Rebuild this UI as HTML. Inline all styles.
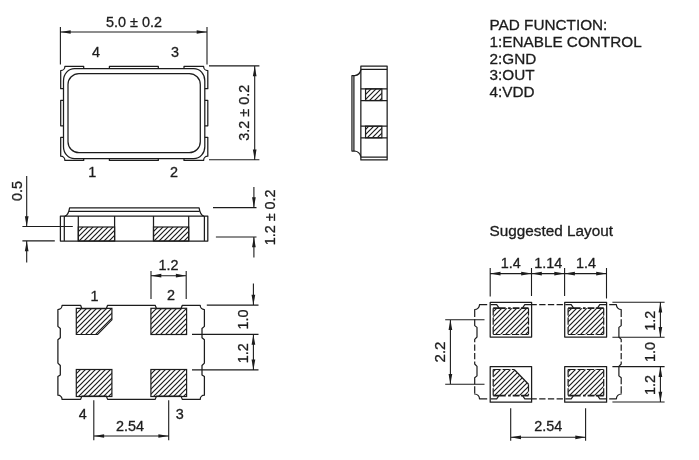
<!DOCTYPE html>
<html><head><meta charset="utf-8">
<style>
html,body{margin:0;padding:0;background:#fff;}
body{width:699px;height:460px;overflow:hidden;font-family:"Liberation Sans",sans-serif;}
svg{display:block;will-change:transform;}
text{font-family:"Liberation Sans",sans-serif;fill:#1c1c1c;stroke:#1c1c1c;stroke-width:0.3px;}
.d{font-size:14.4px;}
.t{font-size:15.3px;}
.o{fill:none;stroke:#1c1c1c;stroke-width:1.25;stroke-linejoin:round;}
.l{fill:none;stroke:#1c1c1c;stroke-width:1.1;}
.a{fill:#1c1c1c;stroke:none;}
.h{fill:url(#hat);stroke:#1c1c1c;stroke-width:1.2;}
.hd{fill:url(#hat);stroke:#1c1c1c;stroke-width:1.2;stroke-dasharray:7.2 2.2;}
</style></head><body>
<svg width="699" height="460" viewBox="0 0 699 460">
<defs>
<pattern id="hat" width="5" height="5" patternUnits="userSpaceOnUse">
<path d="M-1,6 L6,-1 M-1,1 L1,-1 M4,6 L6,4" stroke="#1c1c1c" stroke-width="1.2" fill="none"/>
</pattern>
<path id="aL" d="M0,0 L10.3,-1.85 L10.3,1.85 Z"/>
<path id="aR" d="M0,0 L-10.3,-1.85 L-10.3,1.85 Z"/>
<path id="aU" d="M0,0 L-1.85,10.3 L1.85,10.3 Z"/>
<path id="aD" d="M0,0 L-1.85,-10.3 L1.85,-10.3 Z"/>
<path id="bL" d="M0,0 L8,-1.6 L8,1.6 Z"/>
<path id="bR" d="M0,0 L-8,-1.6 L-8,1.6 Z"/>
<path id="bU" d="M0,0 L-1.6,8 L1.6,8 Z"/>
<path id="bD" d="M0,0 L-1.6,-8 L1.6,-8 Z"/>
</defs>
<rect width="699" height="460" fill="#fff"/>

<!-- ================= TOP VIEW ================= -->
<g id="topview">
<rect class="o" x="63.5" y="68.65" width="141.3" height="90" rx="11" ry="12"/>
<rect class="o" x="68" y="73.5" width="132.3" height="79.2" rx="11" ry="11"/>
<path class="o" d="M83.7,68.65 V66.4 H64.9 A4.2,4.2 0 0 1 60.7,70.6 V88.7 H63.5"/>
<path class="o" d="M109.4,68.65 V66.4 H158.3 V68.65"/>
<path class="o" d="M184,68.65 V66.4 H203.6 A4.2,4.2 0 0 0 207.8,70.6 V88.7 H204.8"/>
<path class="o" d="M63.5,100.4 H60.7 V125.8 H63.5"/>
<path class="o" d="M204.8,100.4 H207.8 V125.8 H204.8"/>
<path class="o" d="M63.5,137.3 H60.7 V156.2 A4.2,4.2 0 0 1 64.9,160.4 H83.7 V158.65"/>
<path class="o" d="M109.4,158.65 V160.4 H158.3 V158.65"/>
<path class="o" d="M184,158.65 V160.4 H203.6 A4.2,4.2 0 0 1 207.8,156.2 V137.3 H204.8"/>
<!-- dim 5.0 -->
<path class="l" d="M60.4,27 V64.6 M207,27 V64.6 M60.4,32 H207"/>
<use href="#aL" class="a" x="60.4" y="32"/><use href="#aR" class="a" x="207" y="32"/>
<text class="d" x="134" y="26.7" text-anchor="middle">5.0 ± 0.2</text>
<text class="d" x="96" y="56.8" text-anchor="middle">4</text>
<text class="d" x="175" y="56.8" text-anchor="middle">3</text>
<text class="d" x="92.3" y="176.6" text-anchor="middle">1</text>
<text class="d" x="174" y="176.6" text-anchor="middle">2</text>
<!-- dim 3.2 -->
<path class="l" d="M209,65.9 H259.4 M209,159.8 H259.4 M254.7,65.9 V159.8"/>
<use href="#aU" class="a" x="254.7" y="65.9"/><use href="#aD" class="a" x="254.7" y="159.8"/>
<text class="d" transform="translate(249,112.8) rotate(-90)" text-anchor="middle">3.2 ± 0.2</text>
</g>

<!-- ================= RIGHT SIDE VIEW ================= -->
<g id="sideview">
<rect class="o" x="360.85" y="66.05" width="26.3" height="93.9"/>
<path class="o" d="M360.85,69.35 H387.15 M360.85,157.2 H387.15"/>
<path class="o" d="M360.85,88.85 H387.15 M360.85,100.5 H387.15 M360.85,126.2 H387.15 M360.85,137.8 H387.15"/>
<rect class="h" x="365.55" y="88.85" width="16.3" height="11.65"/>
<rect class="h" x="365.55" y="126.2" width="16.3" height="11.6"/>
<path class="o" d="M360.85,70 Q359.8,74.8 354.8,75.6 H351.95 V151 H354.8 Q359.8,151.8 360.85,156.6"/>
<path class="o" d="M353.9,75.6 V151"/>
</g>

<!-- ================= FRONT VIEW ================= -->
<g id="frontview">
<rect class="o" x="60.4" y="216.1" width="147.4" height="24.9"/>
<path class="o" d="M64.3,216.1 V241 M204.4,216.1 V241"/>
<path class="o" d="M64.9,216.1 Q68.5,214.9 69.6,207.8 H199.1 Q200.2,214.9 203.8,216.1"/>
<path class="o" d="M69,211.3 H199.7"/>
<path class="o" d="M78.3,216.1 V241 M114.6,216.1 V241 M153.5,216.1 V241 M188.7,216.1 V241"/>
<rect class="h" x="78.3" y="227" width="36.3" height="14"/>
<rect class="h" x="153.5" y="227" width="35.2" height="14"/>
<!-- 0.5 dim -->
<path class="l" d="M22.4,226.5 H72.8 M22.4,240.9 H54.8 M26.7,176 V226.5 M26.7,240.9 V262.4"/>
<use href="#aD" class="a" x="26.7" y="226.5"/><use href="#aU" class="a" x="26.7" y="240.9"/>
<text class="d" transform="translate(21.7,191) rotate(-90)" text-anchor="middle">0.5</text>
<!-- 1.2±0.2 dim -->
<path class="l" d="M213,207.6 H256.5 M215.9,237 H256.5 M253.9,187 V207.6 M253.9,237 V257.6"/>
<use href="#aD" class="a" x="253.9" y="207.6"/><use href="#aU" class="a" x="253.9" y="237"/>
<text class="d" transform="translate(275,217.4) rotate(-90)" text-anchor="middle">1.2 ± 0.2</text>
</g>

<!-- ================= BOTTOM VIEW ================= -->
<g id="bottomview">
<path class="o" d="M62.1,305.3 H80.6 L81.89999999999999,308.7 H106.30000000000001 L107.60000000000001,305.3 H155.20000000000002 L156.50000000000003,308.7 H180.99999999999997 L182.29999999999998,305.3 H200.20000000000002 A4.2,4.2 0 0 0 204.4,309.5 V326.4 L202.0,328.5 V337.7 L204.4,339.8 V363.1 L202.0,365.5 V374.9 L204.4,376.6 V395.2 A4.2,4.2 0 0 0 200.20000000000002,399.4 H182.29999999999998 L180.99999999999997,396.0 H156.50000000000003 L155.20000000000002,399.4 H107.60000000000001 L106.30000000000001,396.0 H81.89999999999999 L80.6,399.4 H62.1 A4.2,4.2 0 0 0 57.9,395.2 V376.6 L60.3,374.9 V365.5 L57.9,363.1 V339.8 L60.3,337.7 V328.5 L57.9,326.4 V309.5 A4.2,4.2 0 0 0 62.1,305.3 Z"/>
<path class="h" d="M76.3,308.3 H111.9 V319.8 L97.6,334.5 H76.3 Z"/>
<rect class="h" x="150.9" y="308.3" width="35.7" height="26.2"/>
<rect class="h" x="76.3" y="369.5" width="35.6" height="27"/>
<rect class="h" x="150.9" y="369.5" width="35.7" height="27"/>
<!-- dim 1.2 top -->
<path class="l" d="M151,271 V299 M186.2,271 V299 M151,275.7 H186.2"/>
<use href="#aL" class="a" x="151" y="275.7"/><use href="#aR" class="a" x="186.2" y="275.7"/>
<text class="d" x="168.5" y="270" text-anchor="middle">1.2</text>
<text class="d" x="94.5" y="300.5" text-anchor="middle">1</text>
<text class="d" x="171" y="300.2" text-anchor="middle">2</text>
<text class="d" x="82.8" y="418.9" text-anchor="middle">4</text>
<text class="d" x="179.7" y="418.9" text-anchor="middle">3</text>
<!-- dim 2.54 -->
<path class="l" d="M93.8,400.3 V440.3 M168.7,400.3 V440.3 M93.8,436 H168.7"/>
<use href="#aL" class="a" x="93.8" y="436"/><use href="#aR" class="a" x="168.7" y="436"/>
<text class="d" x="130" y="430.6" text-anchor="middle">2.54</text>
<!-- dims right 1.0 / 1.2 -->
<path class="l" d="M206.8,305.1 H258.5 M192,334.4 H258.5 M192,369.9 H258.5 M253.4,283.6 V305.1 M253.4,334.4 V369.9"/>
<use href="#aD" class="a" x="253.4" y="305.1"/><use href="#aU" class="a" x="253.4" y="334.4"/><use href="#aD" class="a" x="253.4" y="369.9"/>
<text class="d" transform="translate(247.5,319.6) rotate(-90)" text-anchor="middle">1.0</text>
<text class="d" transform="translate(247.5,353.2) rotate(-90)" text-anchor="middle">1.2</text>
</g>

<!-- ================= TEXT ================= -->
<text class="t" x="489.5" y="29.7">PAD FUNCTION:</text>
<text class="t" x="489.5" y="46.65">1:ENABLE CONTROL</text>
<text class="t" x="489.5" y="63.5">2:GND</text>
<text class="t" x="489.5" y="80.45">3:OUT</text>
<text class="t" x="489.5" y="97.3">4:VDD</text>
<text class="t" style="font-size:15.3px" x="489.6" y="236">Suggested Layout</text>

<!-- ================= SUGGESTED LAYOUT ================= -->
<g id="layout">
<rect class="o" x="490.2" y="302.3" width="41.4" height="34.8"/>
<rect class="o" x="564.7" y="302.3" width="41.9" height="34.8"/>
<rect class="o" x="490.2" y="366.6" width="41.4" height="35.6"/>
<rect class="o" x="564.7" y="366.6" width="41.9" height="35.6"/>
<rect x="493.2" y="308.2" width="35.30000000000001" height="26.30000000000001" fill="url(#hat)"/>
<path class="o" style="stroke-width:1.2;stroke-dasharray:7.2 2.2" d="M493.2,308.2 V334.5 M528.5,308.2 V334.5 M493.2,334.5 H528.5"/>
<path class="o" style="stroke-width:1.7;stroke-dasharray:12.5 2.4 2.6 2 6.8 1.4 20" d="M493.2,308.2 H528.5"/>
<rect x="568.1" y="308.2" width="35.60000000000002" height="26.30000000000001" fill="url(#hat)"/>
<path class="o" style="stroke-width:1.2;stroke-dasharray:7.2 2.2" d="M568.1,308.2 V334.5 M603.7,308.2 V334.5 M568.1,334.5 H603.7"/>
<path class="o" style="stroke-width:1.7;stroke-dasharray:12.5 2.4 2.6 2 6.8 1.4 20" d="M568.1,308.2 H603.7"/>
<path d="M493.2,369.5 H514.2 L528.5,384.3 V395.6 H493.2 Z" fill="url(#hat)"/>
<path class="o" style="stroke-width:1.2;stroke-dasharray:7.2 2.2" d="M493.2,369.5 V395.6 M528.5,384.3 V395.6 M493.2,369.5 H514.2"/>
<path class="o" style="stroke-width:1.3" d="M514.2,369.5 L528.5,384.3"/>
<path class="o" style="stroke-width:1.7;stroke-dasharray:12.5 2.4 2.6 2 6.8 1.4 20" d="M493.2,395.6 H528.5"/>
<rect x="568.1" y="369.5" width="35.60000000000002" height="26.100000000000023" fill="url(#hat)"/>
<path class="o" style="stroke-width:1.2;stroke-dasharray:7.2 2.2" d="M568.1,369.5 V395.6 M603.7,369.5 V395.6 M568.1,369.5 H603.7"/>
<path class="o" style="stroke-width:1.7;stroke-dasharray:12.5 2.4 2.6 2 6.8 1.4 20" d="M568.1,395.6 H603.7"/>

<path class="o" style="stroke-width:1.2" d="M487.2,304.7 H479.5 A4.8,4.8 0 0 1 474.7,309.5 V317.09999999999997"/>
<path class="o" style="stroke-width:1.2" d="M609.2,304.7 H616.4000000000001 A4.8,4.8 0 0 0 621.2,309.5 V317.09999999999997"/>
<path class="o" style="stroke-width:1.2" d="M487.2,398.8 H479.5 A4.8,4.8 0 0 0 474.7,394.0 V393.2"/>
<path class="o" style="stroke-width:1.2" d="M609.2,398.8 H616.4000000000001 A4.8,4.8 0 0 1 621.2,394.0 V393.2"/>
<path class="o" style="stroke-width:1.2" d="M474.7,319.2 V325.6 L477.0,327.4 V337 L474.7,339.3 V342.2"/>
<path class="o" style="stroke-width:1.2" d="M474.7,361.5 V364 L477.0,366.3 V375.9 L474.7,377.7 V384.3"/>
<path class="o" style="stroke-width:1.2" d="M621.2,319.2 V325.6 L618.9000000000001,327.4 V337 L621.2,339.3 V342.2"/>
<path class="o" style="stroke-width:1.2" d="M621.2,361.5 V364 L618.9000000000001,366.3 V375.9 L621.2,377.7 V384.3"/>
<path class="o" style="stroke-width:1.2" d="M490.8,304.7 H496.7 L499.09999999999997,308.2"/>
<path class="o" style="stroke-width:1.2" d="M531.2,304.7 H524.8000000000001 L522.4,308.2"/>
<path class="o" style="stroke-width:1.2" d="M565.3000000000001,304.7 H571.2 L573.6,308.2"/>
<path class="o" style="stroke-width:1.2" d="M606.2,304.7 H599.8000000000001 L597.4,308.2"/>
<path class="o" style="stroke-width:1.2" d="M490.8,398.8 H496.7 L499.09999999999997,395.3"/>
<path class="o" style="stroke-width:1.2" d="M531.2,398.8 H524.8000000000001 L522.4,395.3"/>
<path class="o" style="stroke-width:1.2" d="M565.3000000000001,398.8 H571.2 L573.6,395.3"/>
<path class="o" style="stroke-width:1.2" d="M606.2,398.8 H599.8000000000001 L597.4,395.3"/>
<path class="o" style="stroke-width:1.2;stroke-dasharray:6.2 2.2" d="M474.7,344.6 V359.2"/>
<path class="o" style="stroke-width:1.2;stroke-dasharray:6.6 9" d="M474.7,386.3 V393.2"/>
<path class="o" style="stroke-width:1.2;stroke-dasharray:6.2 2.2" d="M621.2,344.6 V359.2"/>
<path class="o" style="stroke-width:1.2;stroke-dasharray:6.6 9" d="M621.2,386.3 V393.2"/>
<path class="o" style="stroke-width:1.2;stroke-dasharray:5.2 2.4 6.3 2.4 6.3 2.4 6.3 2.4" d="M531.6,304.7 H564.7"/>
<path class="o" style="stroke-width:1.2;stroke-dasharray:5.2 2.4 6.3 2.4 6.3 2.4 6.3 2.4" d="M531.6,398.8 H564.7"/>

<!-- top dims -->
<path class="l" d="M490.2,267.9 V296.5 M531.5,267.9 V296 M564.6,267.9 V296 M606.5,267.9 V298.5 M490.2,273.6 H606.5"/>
<use href="#aL" class="a" x="490.2" y="273.6"/><use href="#aR" class="a" x="531.5" y="273.6"/>
<use href="#aL" class="a" x="531.5" y="273.6"/><use href="#aR" class="a" x="564.6" y="273.6"/>
<use href="#aL" class="a" x="564.6" y="273.6"/><use href="#aR" class="a" x="606.5" y="273.6"/>
<text class="d" x="510.7" y="267.9" text-anchor="middle">1.4</text>
<text class="d" x="548.3" y="267.9" text-anchor="middle">1.14</text>
<text class="d" x="586" y="267.9" text-anchor="middle">1.4</text>
<!-- right dims -->
<path class="l" d="M612.4,302.3 H664.6 M612.4,337.2 H664.6 M612.4,366.6 H664.6 M612.4,402 H664.6 M660.4,302.3 V337.2 M660.4,366.6 V402"/>
<use href="#aU" class="a" x="660.4" y="302.3"/><use href="#aD" class="a" x="660.4" y="337.2"/>
<use href="#aU" class="a" x="660.4" y="366.6"/><use href="#aD" class="a" x="660.4" y="402"/>
<text class="d" transform="translate(654.7,320.8) rotate(-90)" text-anchor="middle">1.2</text>
<text class="d" transform="translate(654.7,352) rotate(-90)" text-anchor="middle">1.0</text>
<text class="d" transform="translate(654.7,385) rotate(-90)" text-anchor="middle">1.2</text>
<!-- left dim 2.2 -->
<path class="l" d="M445.2,319.8 H484.5 M445.2,384.3 H484.5 M450.4,319.8 V384.3"/>
<use href="#aU" class="a" x="450.4" y="319.8"/><use href="#aD" class="a" x="450.4" y="384.3"/>
<text class="d" style="font-size:15.1px" transform="translate(444.6,352) rotate(-90)" text-anchor="middle">2.2</text>
<!-- bottom dim 2.54 -->
<path class="l" d="M510.7,408.2 V440.7 M585.6,408.2 V440.7 M510.7,437.3 H585.6"/>
<use href="#aL" class="a" x="510.7" y="437.3"/><use href="#aR" class="a" x="585.6" y="437.3"/>
<text class="d" x="548.3" y="431" text-anchor="middle">2.54</text>
</g>
</svg>
</body></html>
